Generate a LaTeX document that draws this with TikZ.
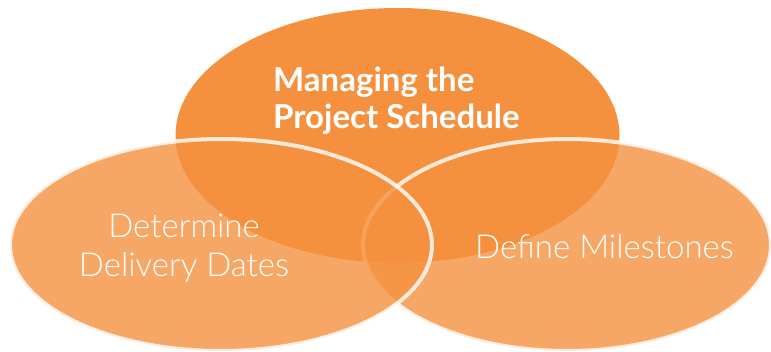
\documentclass[tikz,border=0pt]{standalone}
\usepackage{fontspec}
\setmainfont{Lato}
\newfontfamily\lightfont{Lato Light}
\usetikzlibrary{shapes.geometric}
\definecolor{vorange}{RGB}{245,145,62}
\tikzset{
  blob/.style={ellipse, inner sep=0pt, fill=vorange},
  sideblob/.style={blob, fill opacity=0.8, draw=white, draw opacity=0.8, line width=4pt},
  headtext/.style={text=white, font=\bfseries\fontsize{33}{37}\selectfont, align=left, inner sep=0pt},
  bodytext/.style={text=white, font=\lightfont\fontsize{33}{39}\selectfont, align=center, inner sep=0pt},
}
\begin{document}
\begin{tikzpicture}[x=1pt,y=-1pt]
\useasboundingbox (0,0) rectangle (771,351);
\node[blob, minimum width=444pt, minimum height=255pt] (top) at (397.5,135.5) {};
\node[sideblob, minimum width=408pt, minimum height=212pt] (right) at (567,245) {};
\node[sideblob, minimum width=422pt, minimum height=212pt] (left) at (221,245) {};
\node[headtext, anchor=base west] (title) at (273,128) {Managing the\\Project Schedule};
\node[bodytext, anchor=base] (dates) at (184,276) {Determine\\Delivery Dates};
\node[bodytext, anchor=base] (miles) at (604.5,258) {Define Milestones};
\end{tikzpicture}
\end{document}
